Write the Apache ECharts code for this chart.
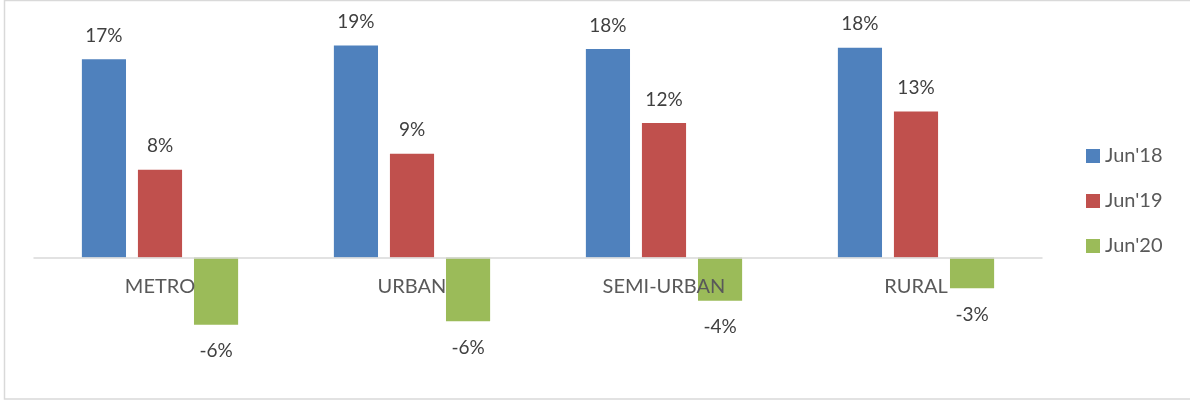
<!DOCTYPE html>
<html>
<head>
<meta charset="utf-8">
<script src="https://cdn.jsdelivr.net/npm/echarts@6/dist/echarts.min.js"></script>
<style>
  html, body { margin: 0; padding: 0; background: #fff; }
  #chart { width: 1190px; height: 401px; }
</style>
</head>
<body>
<div id="chart"></div>
<script>
const categories = ['METRO', 'URBAN', 'SEMI-URBAN', 'RURAL'];
const seriesNames = ["Jun'18", "Jun'19", "Jun'20"];
const jun18 = [17.4, 18.6, 18.3, 18.4];
const jun19 = [7.7, 9.1, 11.8, 12.8];
const jun20 = [-5.9, -5.6, -3.8, -2.7];

const colors = ['#4F81BD', '#C0504D', '#9BBB59'];
const fontFamily = 'Lato, "Open Sans", sans-serif';

function pctLabel(p) {
  return Math.round(p.value) + '%';
}

function makeSeries(name, data, color, pos, dist) {
  return {
    name: name,
    type: 'bar',
    data: data,
    barGap: '27%',
    barCategoryGap: '38%',
    itemStyle: { color: color },
    label: {
      show: true,
      position: pos,
      distance: dist,
      formatter: pctLabel,
      color: '#404040',
      fontSize: 19,
      fontFamily: fontFamily
    }
  };
}

const chart = echarts.init(document.getElementById('chart'));
chart.setOption({
  animation: false,
  color: colors,
  graphic: [{
    type: 'rect',
    shape: { x: 4.5, y: 0.5, width: 1220, height: 398.5 },
    style: { fill: null, stroke: '#d9d9d9', lineWidth: 1.5 },
    silent: true
  }],
  legend: {
    orient: 'vertical',
    left: 1081,
    top: 141,
    itemWidth: 14,
    itemHeight: 14,
    itemGap: 25,
    icon: 'rect',
    textStyle: { color: '#595959', fontSize: 20, fontFamily: fontFamily },
    data: seriesNames
  },
  grid: { left: 34, right: 148, top: 29.5, bottom: 52.3 },
  xAxis: {
    type: 'category',
    data: categories,
    z: 5,
    axisLine: { show: true, onZero: true, lineStyle: { color: '#d9d9d9', width: 1.5 } },
    axisTick: { show: false },
    axisLabel: { color: '#595959', fontSize: 20, fontFamily: fontFamily, margin: -72 }
  },
  yAxis: {
    type: 'value',
    min: -8,
    max: 20,
    show: false,
    splitLine: { show: false }
  },
  series: [
    makeSeries(seriesNames[0], jun18, colors[0], 'top', 14),
    makeSeries(seriesNames[1], jun19, colors[1], 'top', 14),
    makeSeries(seriesNames[2], jun20, colors[2], 'bottom', 17)
  ]
});
</script>
</body>
</html>
